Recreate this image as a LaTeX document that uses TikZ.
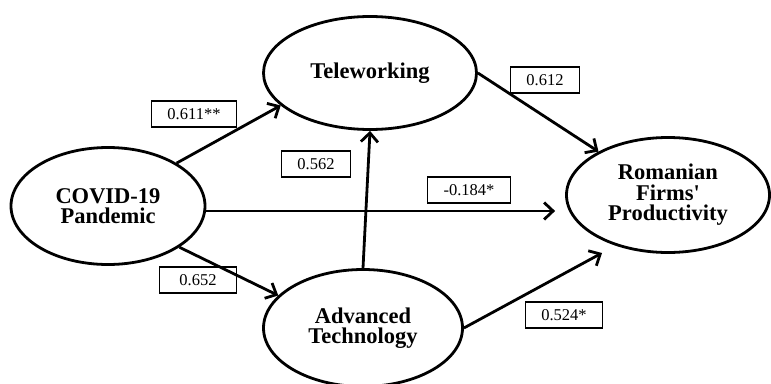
\documentclass[tikz,border=0pt]{standalone}
\usepackage{fontspec}
\setmainfont{Liberation Serif}[Ligatures=TeXOff]
\usetikzlibrary{shapes.geometric,arrows.meta}
\begin{document}
\begin{tikzpicture}[x=1pt,y=-1pt,
  latent/.style={ellipse,draw,line width=2.8pt,inner sep=0pt,font=\fontsize{22.5}{20.5}\selectfont\bfseries,align=center},
  coef/.style={draw,line width=1.1pt,inner xsep=16pt,inner ysep=0pt,minimum height=26pt,font=\fontsize{16.5}{18}\selectfont},
  causal/.style={line width=2.8pt,-{Straight Barb[length=9pt,width=17pt]}}]
\useasboundingbox (0,0) rectangle (771,383);
\node[latent,minimum width=194pt,minimum height=117pt] (cov) at (108,206) {COVID-19\\Pandemic};
\node[latent,minimum width=213pt,minimum height=113pt] (tel) at (370,73) {Teleworking};
\node[latent,minimum width=203pt,minimum height=115pt] (rom) at (668,195) {Romanian\\Firms'\\Productivity};
\node[latent,minimum width=199pt,minimum height=117pt] (adv) at (363,328) {Advanced\\Technology};
\draw[causal] (cov.32) -- (tel.200);
\draw[causal] (tel.east) -- (rom.148);
\draw[causal] ([yshift=-5pt]cov.east) -- ([xshift=-10pt,yshift=-16pt]rom.west);
\draw[causal] (cov.-30) -- (adv.159);
\draw[causal] (adv.north) -- (tel.south);
\draw[causal] (adv.east) -- ([xshift=-66pt,yshift=-58pt]rom.center);
\node[coef] (l1) at (194,114) {0.611**};
\node[coef] (l2) at (316,164) {0.562};
\node[coef] (l3) at (545,80) {0.612};
\node[coef] (l4) at (469,190) {-0.184*};
\node[coef,minimum width=77pt] (l5) at (198,280) {0.652};
\node[coef] (l6) at (564,315) {0.524*};
\end{tikzpicture}
\end{document}
